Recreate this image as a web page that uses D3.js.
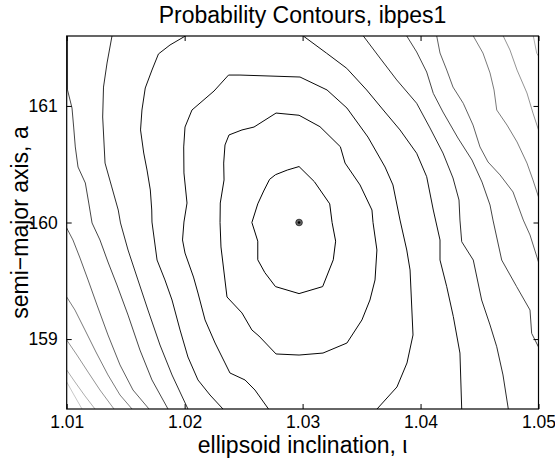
<!DOCTYPE html>
<html><head><meta charset="utf-8">
<script src="https://cdn.jsdelivr.net/npm/d3@7"></script>
<style>
body{margin:0;background:#fff}
text{font-family:"Liberation Sans",Arial,Helvetica,sans-serif;fill:#000}
</style>
</head><body>
<svg id="chart" width="555" height="462"></svg>
<script>
// ---- data ----
const xDomain = [1.01, 1.05];
const yDomain = [158.4, 161.6];
const xTicks = [1.01, 1.02, 1.03, 1.04, 1.05];
const yTicks = [159, 160, 161];
const titleText = "Probability Contours, ibpes1";
const xLabel = "ellipsoid inclination, \u03b9";
const yLabel = "semi\u2212major axis, a";
const bestFit = [1.0297, 160.0];

// contour lines, innermost level 0 outward
const c1 = [[1.0297,160.48],[1.0310,160.35],[1.0323,160.16],[1.0325,160.00],[1.0328,159.84],[1.0326,159.68],[1.0317,159.45],[1.0297,159.39],[1.0277,159.45],[1.0268,159.57],[1.0262,159.68],[1.0262,159.84],[1.0257,160.00],[1.0262,160.16],[1.0267,160.27],[1.0272,160.37],[1.0277,160.41],[1.0287,160.45],[1.0297,160.48]];
const c2 = [[1.0297,160.92],[1.03147,160.822],[1.0332,160.65],[1.0336,160.51],[1.03487,160.322],[1.03588,160.107],[1.03597,160.0],[1.0363,159.764],[1.03614,159.507],[1.03571,159.335],[1.03503,159.164],[1.03376,158.966],[1.03173,158.88],[1.0297,158.863],[1.02775,158.872],[1.0263,159.026],[1.0257,159.078],[1.02486,159.224],[1.02359,159.361],[1.02308,159.79],[1.023,160.0],[1.02302,160.167],[1.02334,160.365],[1.02331,160.51],[1.02342,160.665],[1.02376,160.751],[1.02486,160.794],[1.02588,160.819],[1.02775,160.939],[1.0297,160.92]];
const c3 = [[1.02711,158.4],[1.02596,158.563],[1.02512,158.649],[1.02384,158.709],[1.02342,158.795],[1.02258,158.966],[1.02173,159.164],[1.02113,159.395],[1.02075,159.532],[1.02003,159.738],[1.01982,159.85],[1.01994,160.004],[1.0202,160.167],[1.01994,160.425],[1.01992,160.648],[1.02003,160.819],[1.02062,160.965],[1.02249,161.128],[1.02372,161.265],[1.02469,161.265],[1.02978,161.248],[1.03207,161.137],[1.03376,160.982],[1.03554,160.733],[1.03699,160.476],[1.03766,160.322],[1.03826,160.021],[1.03883,159.764],[1.03911,159.593],[1.03936,159.035],[1.03885,158.795],[1.038,158.589],[1.03631,158.4]];
const c4a = [[1.02325,158.4],[1.02215,158.52],[1.02113,158.649],[1.02028,158.846],[1.01961,159.078],[1.01893,159.335],[1.01833,159.507],[1.01766,159.678],[1.01723,160.004],[1.01721,160.107],[1.01709,160.279],[1.01681,160.45],[1.01653,160.596],[1.01626,160.794],[1.01638,160.965],[1.01666,161.154],[1.01723,161.308],[1.01778,161.446],[1.01876,161.523],[1.02006,161.6]];
const c4b = [[1.03006,161.6],[1.03204,161.452],[1.03374,161.323],[1.03543,161.137],[1.03684,160.965],[1.03826,160.794],[1.03967,160.594],[1.04052,160.393],[1.04108,160.107],[1.04165,159.85],[1.04165,159.678],[1.04222,159.449],[1.04278,159.192],[1.04334,158.88],[1.04349,158.4]];
const c5a = [[1.01384,161.6],[1.01342,161.368],[1.01312,161.162],[1.01305,160.905],[1.01325,160.51],[1.01382,160.305],[1.01437,160.107],[1.01456,159.996],[1.0152,159.764],[1.01604,159.507],[1.01689,159.249],[1.01791,158.949],[1.01893,158.692],[1.02028,158.4]];
const c5b = [[1.03515,161.6],[1.03656,161.411],[1.03798,161.223],[1.03967,161.023],[1.0408,160.811],[1.0419,160.596],[1.04275,160.382],[1.04326,160.193],[1.04334,160.021],[1.04349,159.835],[1.04447,159.678],[1.04518,159.335],[1.04589,159.121],[1.04646,158.934],[1.04699,158.692],[1.04744,158.4]];
const c6a = [[1.01007,161.6],[1.01007,161.137],[1.01045,160.982],[1.01059,160.819],[1.01073,160.648],[1.01096,160.476],[1.01158,160.339],[1.01187,160.167],[1.01215,159.996],[1.01282,159.85],[1.0135,159.661],[1.01426,159.464],[1.0152,159.206],[1.01621,158.906],[1.01723,158.649],[1.01859,158.4]];
const c6b = [[1.03883,161.6],[1.03967,161.463],[1.04052,161.291],[1.04108,161.108],[1.0419,160.948],[1.04317,160.725],[1.04436,160.536],[1.04521,160.347],[1.04589,160.15],[1.04614,160.021],[1.04688,159.678],[1.04815,159.449],[1.04928,159.249],[1.04942,159.049],[1.05,158.932]];
const c7a = [[1.01,159.953],[1.01053,159.85],[1.01113,159.695],[1.01181,159.507],[1.01257,159.292],[1.0135,159.035],[1.01452,158.778],[1.01562,158.563],[1.01698,158.4]];
const c7b = [[1.04137,161.6],[1.04165,161.454],[1.04222,161.308],[1.04275,161.162],[1.04362,161.023],[1.04445,160.836],[1.04504,160.648],[1.04572,160.519],[1.04674,160.408],[1.04784,160.262],[1.04871,160.021],[1.04928,159.893],[1.05,159.661]];
const c8a = [[1.01,159.361],[1.0107,159.249],[1.01155,159.078],[1.01248,158.889],[1.0135,158.692],[1.01452,158.52],[1.01554,158.4]];
const c8b = [[1.04447,161.6],[1.04529,161.454],[1.04589,161.283],[1.04623,161.137],[1.04646,160.965],[1.04733,160.836],[1.04818,160.691],[1.04902,160.51],[1.04953,160.365],[1.05,160.219]];
const c9a = [[1.01,158.992],[1.01087,158.863],[1.01181,158.717],[1.01282,158.563],[1.01401,158.4]];
const c9b = [[1.04701,161.6],[1.04758,161.48],[1.04818,161.308],[1.04902,161.111],[1.04953,160.939],[1.05,160.794]];
const c10a = [[1.01,158.735],[1.0107,158.632],[1.01155,158.512],[1.0124,158.4]];
const c10b = [[1.04956,161.6],[1.04985,161.452],[1.05,161.428]];
const c11a = [[1.01,158.632],[1.01062,158.52],[1.0113,158.4]];

const contourLevels = [0,1,2,3,3,4,4,5,5,6,6,7,7,8,8,9,9,10];
const contourLines  = [c1,c2,c3,c4a,c4b,c5a,c5b,c6a,c6b,c7a,c7b,c8a,c8b,c9a,c9b,c10a,c10b,c11a];

// ---- layout ----
const W = 555, H = 462;
const m = {left: 66.7, right: 538.5, top: 36, bottom: 409};
const svg = d3.select("#chart");
svg.append("rect").attr("width", W).attr("height", H).attr("fill", "#fff");

const x = d3.scaleLinear().domain(xDomain).range([m.left, m.right]);
const y = d3.scaleLinear().domain(yDomain).range([m.bottom, m.top]);
const gray = d3.scaleLinear().domain([0, 3, 10]).range(["#000000", "#111111", "#c8c8c8"]);

svg.append("clipPath").attr("id", "plotclip")
  .append("rect").attr("x", m.left).attr("y", m.top)
  .attr("width", m.right - m.left).attr("height", m.bottom - m.top);

const line = d3.line().x(d => x(d[0])).y(d => y(d[1]));
const g = svg.append("g").attr("clip-path", "url(#plotclip)");
g.selectAll("path.contour").data(contourLines).join("path")
  .attr("class", "contour")
  .attr("d", line)
  .attr("fill", "none")
  .attr("stroke", (d, i) => gray(contourLevels[i]))
  .attr("stroke-width", 1);

// best-fit marker
g.append("circle").attr("cx", x(bestFit[0])).attr("cy", y(bestFit[1]))
  .attr("r", 3.3).attr("fill", "#666").attr("stroke", "#222").attr("stroke-width", 0.8);
g.append("circle").attr("cx", x(bestFit[0])).attr("cy", y(bestFit[1]))
  .attr("r", 1.3).attr("fill", "#000");

// axes (inward ticks, box)
const fmtX = d3.format(".2f");
const axB = svg.append("g").attr("transform", `translate(0,${m.bottom})`)
  .call(d3.axisBottom(x).tickValues(xTicks).tickFormat(fmtX).tickSizeInner(-5).tickSizeOuter(0).tickPadding(7));
const axT = svg.append("g").attr("transform", `translate(0,${m.top})`)
  .call(d3.axisTop(x).tickValues(xTicks).tickFormat("").tickSizeInner(-5).tickSizeOuter(0));
const axL = svg.append("g").attr("transform", `translate(${m.left},0)`)
  .call(d3.axisLeft(y).tickValues(yTicks).tickFormat(d3.format("d")).tickSizeInner(-5).tickSizeOuter(0).tickPadding(9));
const axR = svg.append("g").attr("transform", `translate(${m.right},0)`)
  .call(d3.axisRight(y).tickValues(yTicks).tickFormat("").tickSizeInner(-5).tickSizeOuter(0));
[axB, axT, axL, axR].forEach(a => {
  a.select(".domain").remove();
  a.selectAll(".tick line").attr("stroke", "#000").attr("stroke-width", 1);
  a.selectAll("text").attr("font-size", 17.5).attr("fill", "#000")
    .style("font-family", '"Liberation Sans", Arial, sans-serif');
});

svg.append("rect").attr("x", m.left).attr("y", m.top)
  .attr("width", m.right - m.left).attr("height", m.bottom - m.top)
  .attr("fill", "none").attr("stroke", "#000").attr("stroke-width", 1.2);

svg.append("text").attr("x", (m.left + m.right) / 2).attr("y", 23)
  .attr("text-anchor", "middle").attr("font-size", 23).text(titleText);
svg.append("text").attr("x", (m.left + m.right) / 2).attr("y", 453)
  .attr("text-anchor", "middle").attr("font-size", 23).text(xLabel);
svg.append("text").attr("transform", `translate(28,${(m.top + m.bottom) / 2}) rotate(-90)`)
  .attr("text-anchor", "middle").attr("font-size", 23).text(yLabel);
</script>
</body></html>
